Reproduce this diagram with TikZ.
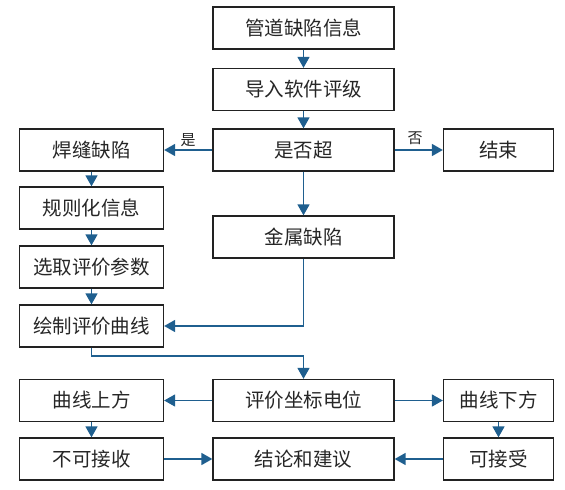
\documentclass[tikz,border=0pt]{standalone}
\usepackage{fontspec}
\newfontfamily\cjk{Noto Sans CJK SC}
\usetikzlibrary{arrows.meta}
\definecolor{arrowblue}{HTML}{1F5F8F}
\definecolor{boxline}{HTML}{222222}
\begin{document}
\begin{tikzpicture}[x=1pt,y=-1pt,
  box/.style={draw=boxline,line width=1.3pt,inner sep=0pt,minimum height=42pt,
    font=\cjk\fontsize{19.5}{22}\selectfont,text=black!85},
  mid/.style={box,minimum width=181pt},
  lft/.style={box,minimum width=144pt},
  rgt/.style={box,minimum width=110pt},
  conn/.style={draw=arrowblue,line width=1.6pt,-{Triangle[length=11pt,width=12pt]}},
  lbl/.style={font=\cjk\fontsize{15}{17}\selectfont,text=black!85,inner sep=0pt}]
\useasboundingbox (0,0) rectangle (565,490);
% middle column
\node[mid] (guandao) at (303.5,28) {管道缺陷信息};
\node[mid] (daoru) at (303.5,89.5) {导入软件评级};
\node[mid] (shifou) at (303.5,150) {是否超};
\node[mid] (jinshu) at (303.5,237) {金属缺陷};
\node[mid] (pingjia) at (303.5,400.5) {评价坐标电位};
\node[mid] (jielun) at (303.5,459) {结论和建议};
% left column
\node[lft] (hanfeng) at (91.5,150) {焊缝缺陷};
\node[lft] (guize) at (91.5,208) {规则化信息};
\node[lft] (xuanqu) at (91.5,267) {选取评价参数};
\node[lft] (huizhi) at (91.5,326) {绘制评价曲线};
\node[lft] (shangfang) at (91.5,400.5) {曲线上方};
\node[lft] (bukejie) at (91.5,459) {不可接收};
% right column
\node[rgt] (jieshu) at (498.5,150) {结束};
\node[rgt] (xiafang) at (498.5,400.5) {曲线下方};
\node[rgt] (kejie) at (498.5,459) {可接受};
% labels
\node[lbl] (shi) at (188,140) {是};
\node[lbl] (fou) at (415,138) {否};
\coordinate (bend) at (200,356);
% connectors
\draw[conn] (guandao) -- (daoru);
\draw[conn] (daoru) -- (shifou);
\draw[conn] (shifou) -- (hanfeng);
\draw[conn] (shifou) -- (jieshu);
\draw[conn] (shifou) -- (jinshu);
\draw[conn] (hanfeng) -- (guize);
\draw[conn] (guize) -- (xuanqu);
\draw[conn] (xuanqu) -- (huizhi);
\draw[conn] (jinshu.south) |- (huizhi.east);
\draw[conn] (huizhi.south) |- (bend) -| (pingjia.north);
\draw[conn] (pingjia) -- (shangfang);
\draw[conn] (pingjia) -- (xiafang);
\draw[conn] (shangfang) -- (bukejie);
\draw[conn] (xiafang) -- (kejie);
\draw[conn] (bukejie) -- (jielun);
\draw[conn] (kejie) -- (jielun);
\end{tikzpicture}
\end{document}
